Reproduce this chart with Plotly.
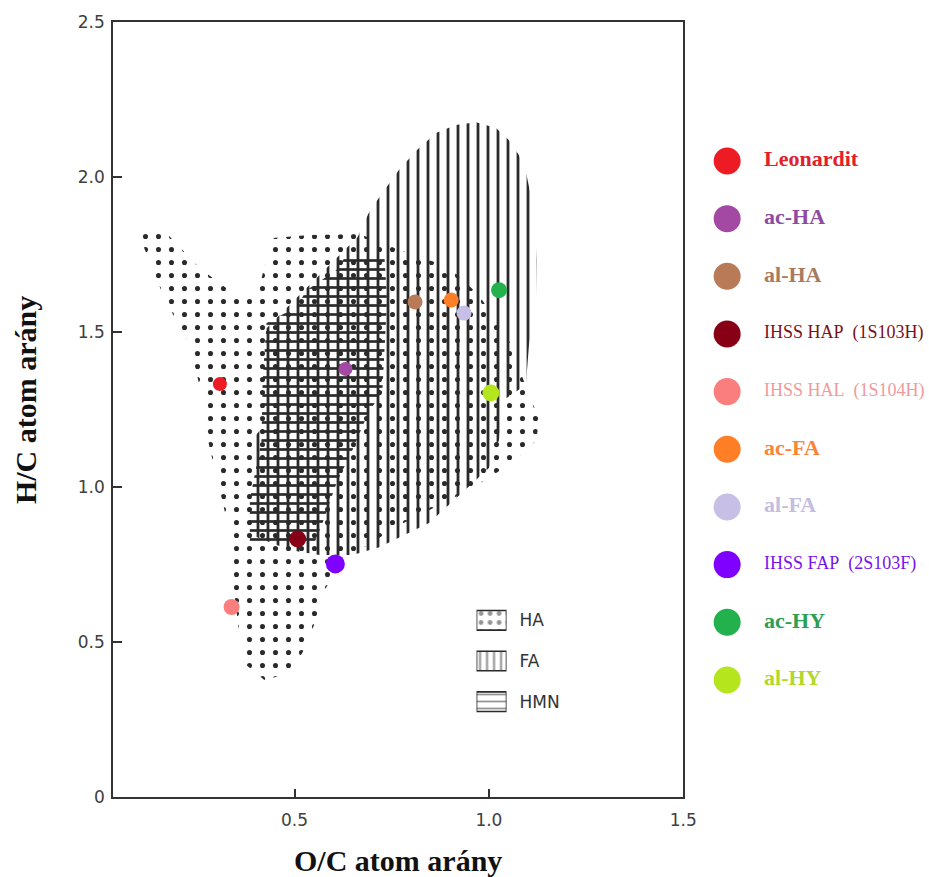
import numpy as np
import plotly.graph_objects as go

# ---------------- data ----------------
SAMPLE_NAMES = ["Leonardit", "ac-HA", "al-HA", "IHSS HAP\u00a0 (1S103H)", "IHSS HAL\u00a0 (1S104H)",
                "ac-FA", "al-FA", "IHSS FAP\u00a0 (2S103F)", "ac-HY", "al-HY"]
OC_RATIO = [0.308, 0.631, 0.810, 0.508, 0.338, 0.903, 0.936, 0.605, 1.026, 1.005]
HC_RATIO = [1.332, 1.381, 1.597, 0.832, 0.613, 1.603, 1.561, 0.752, 1.635, 1.303]

# region outlines (O/C, H/C)
HA_OC = [0.115, 0.167, 0.256, 0.359, 0.405, 0.423, 0.444, 0.538, 0.667, 0.769, 0.897, 0.974,
         1.051, 1.103, 1.128, 1.123, 1.064, 0.949, 0.769, 0.628, 0.577, 0.538, 0.492, 0.423,
         0.367, 0.344, 0.338, 0.308, 0.277, 0.264, 0.231, 0.167, 0.110, 0.103]
HA_HC = [1.835, 1.823, 1.706, 1.610, 1.616, 1.716, 1.803, 1.813, 1.816, 1.765, 1.710, 1.619,
         1.474, 1.297, 1.223, 1.152, 1.081, 0.990, 0.877, 0.765, 0.668, 0.506, 0.403, 0.377,
         0.435, 0.668, 0.829, 0.990, 1.152, 1.281, 1.458, 1.603, 1.781, 1.823]

FA_OC = [0.390, 0.390, 0.423, 0.423, 0.487, 0.564, 0.662, 0.692, 0.718, 0.769, 0.815, 0.864,
         0.915, 0.967, 1.018, 1.051, 1.077, 1.097, 1.115, 1.123, 1.121, 1.103, 1.095, 1.038,
         1.026, 1.000, 0.846, 0.718, 0.649, 0.564, 0.487]
FA_HC = [0.845, 1.152, 1.200, 1.506, 1.587, 1.684, 1.806, 1.887, 1.935, 2.023, 2.087, 2.142,
         2.168, 2.177, 2.158, 2.119, 2.071, 2.006, 1.894, 1.732, 1.603, 1.458, 1.329, 1.281,
         1.152, 1.061, 0.884, 0.806, 0.781, 0.781, 0.797]

HMN_OC = [0.428, 0.505, 0.531, 0.608, 0.628, 0.731, 0.738, 0.726, 0.685, 0.649, 0.608, 0.572,
          0.551, 0.385, 0.385, 0.415, 0.418]
HMN_HC = [1.529, 1.581, 1.635, 1.700, 1.739, 1.748, 1.603, 1.313, 1.226, 1.119, 1.013, 0.884,
          0.819, 0.813, 0.958, 1.152, 1.345]

REGION_NAMES = ["HA", "FA", "HMN"]

X_TICKS = [0.5, 1.0, 1.5]
X_TICK_LABELS = ["0.5", "1.0", "1.5"]
Y_TICKS = [0, 0.5, 1.0, 1.5, 2.0, 2.5]
Y_TICK_LABELS = ["0", "0.5", "1.0", "1.5", "2.0", "2.5"]

# ---------------- styles ----------------
COLORS = ["#ED1C24", "#A349A4", "#B97A57", "#880015", "#FA7E7E",
          "#FF7F27", "#C8BFE7", "#7F00FF", "#22B14C", "#B5E61D"]
TEXT_COLORS = ["#E3202A", "#8E4AA0", "#A97B5C", "#7A1020", "#F29A9A",
               "#F7863A", "#C3BDE0", "#7415E8", "#2E9E55", "#B2D82A"]
MARKER_SIZES = [14, 14, 15, 17, 16, 15, 15, 19, 16, 17]
BOLD = [True, True, True, False, False, True, True, False, True, True]
INK = "#2a2a2a"
SERIF = "Liberation Serif"
SANS = "DejaVu Sans"

fig = go.Figure()

# hatched regions
region_specs = [
    (HA_OC, HA_HC, dict(shape=".", size=13, solidity=0.12)),
    (FA_OC, FA_HC, dict(shape="|", size=10, solidity=0.28)),
    (HMN_OC, HMN_HC, dict(shape="-", size=9, solidity=0.3)),
]
for (xs, ys, pat), nm in zip(region_specs, REGION_NAMES):
    fig.add_trace(go.Scatter(
        x=xs, y=ys, mode="lines", fill="toself", name=nm,
        line=dict(width=0, color="rgba(0,0,0,0)"),
        fillcolor="rgba(0,0,0,0)",
        fillpattern=dict(fgcolor=INK, bgcolor="rgba(0,0,0,0)", fillmode="replace", **pat),
        hoverinfo="skip", showlegend=False,
    ))

# sample points
fig.add_trace(go.Scatter(
    x=OC_RATIO, y=HC_RATIO, mode="markers", text=SAMPLE_NAMES,
    marker=dict(color=COLORS, size=MARKER_SIZES, opacity=1, line=dict(width=0)),
    hovertemplate="%{text}<br>O/C=%{x}<br>H/C=%{y}<extra></extra>",
    showlegend=False,
))

# custom legend on the right (own axis pair)
rows = np.arange(len(SAMPLE_NAMES))
labels = [f"<b>{n}</b>" if b else n for n, b in zip(SAMPLE_NAMES, BOLD)]
label_sizes = [22 if b else 18 for b in BOLD]
fig.add_trace(go.Scatter(
    x=[0.069] * len(rows), y=rows, mode="markers", xaxis="x2", yaxis="y2",
    marker=dict(color=COLORS, size=27, opacity=1, line=dict(width=0)),
    hoverinfo="skip", showlegend=False, cliponaxis=False,
))
fig.add_trace(go.Scatter(
    x=[0.24] * len(rows), y=rows, mode="text", xaxis="x2", yaxis="y2",
    text=labels, textposition="middle right",
    textfont=dict(family=SERIF, size=label_sizes, color=TEXT_COLORS),
    hoverinfo="skip", showlegend=False, cliponaxis=False,
))

# inset legend for hatched regions (own axis pair)
fig.add_trace(go.Bar(
    x=[1] * len(REGION_NAMES), y=list(range(len(REGION_NAMES))), base=0,
    orientation="h", width=0.48, xaxis="x3", yaxis="y3",
    marker=dict(color="white", line=dict(color=INK, width=1.6),
                pattern=dict(shape=[".", "|", "-"], size=[9, 7, 7],
                             solidity=[0.22, 0.3, 0.25], fgcolor=INK, bgcolor="white")),
    hoverinfo="skip", showlegend=False,
))

main_w = 571 / 816

fig.update_layout(
    width=942, height=877, autosize=False,
    margin=dict(l=113, r=0, t=22, b=80),
    paper_bgcolor="white", plot_bgcolor="white",
    showlegend=False,
    xaxis=dict(domain=[0, main_w], range=[0.033, 1.5], tickvals=X_TICKS, ticktext=X_TICK_LABELS,
               showgrid=False, zeroline=False, showline=True, mirror=True,
               linecolor="#333", linewidth=1.5, ticks="inside", ticklen=8, tickwidth=1.5,
               tickcolor="#333", ticklabelstandoff=7,
               tickfont=dict(family=SANS, size=17, color="#404040")),
    yaxis=dict(domain=[0, 1], range=[0, 2.5], tickvals=Y_TICKS, ticktext=Y_TICK_LABELS,
               showgrid=False, zeroline=False, showline=True, mirror=True,
               linecolor="#333", linewidth=1.5, ticks="inside", ticklen=9, tickwidth=1.5,
               tickcolor="#333", ticklabelstandoff=3,
               tickfont=dict(family=SANS, size=17, color="#404040")),
    xaxis2=dict(domain=[600 / 816, 1.0], range=[0, 1], visible=False, anchor="y2"),
    yaxis2=dict(domain=[0, 1], range=[11.03, -2.41], visible=False, anchor="x2"),
    xaxis3=dict(domain=[364 / 816, 394 / 816], range=[0, 1], visible=False, anchor="y3"),
    yaxis3=dict(domain=[75 / 775, 197 / 775], range=[2.5, -0.5], anchor="x3", side="right",
                showgrid=False, zeroline=False, showline=False, ticks="",
                tickvals=list(range(len(REGION_NAMES))), ticktext=REGION_NAMES,
                ticklabelstandoff=12,
                tickfont=dict(family=SANS, size=17, color="#333")),
    annotations=[
        dict(text="<b>O/C atom arány</b>", xref="paper", yref="paper",
             x=main_w / 2, y=-63 / 775, xanchor="center", yanchor="middle", showarrow=False,
             font=dict(family=SERIF, size=30, color="#111")),
        dict(text="<b>H/C atom arány</b>", xref="paper", yref="paper",
             x=-88 / 816, y=(797 - 400) / 775, xanchor="center", yanchor="middle",
             textangle=-90, showarrow=False,
             font=dict(family=SERIF, size=30, color="#111")),
    ],
)

fig.write_html("out.html")
